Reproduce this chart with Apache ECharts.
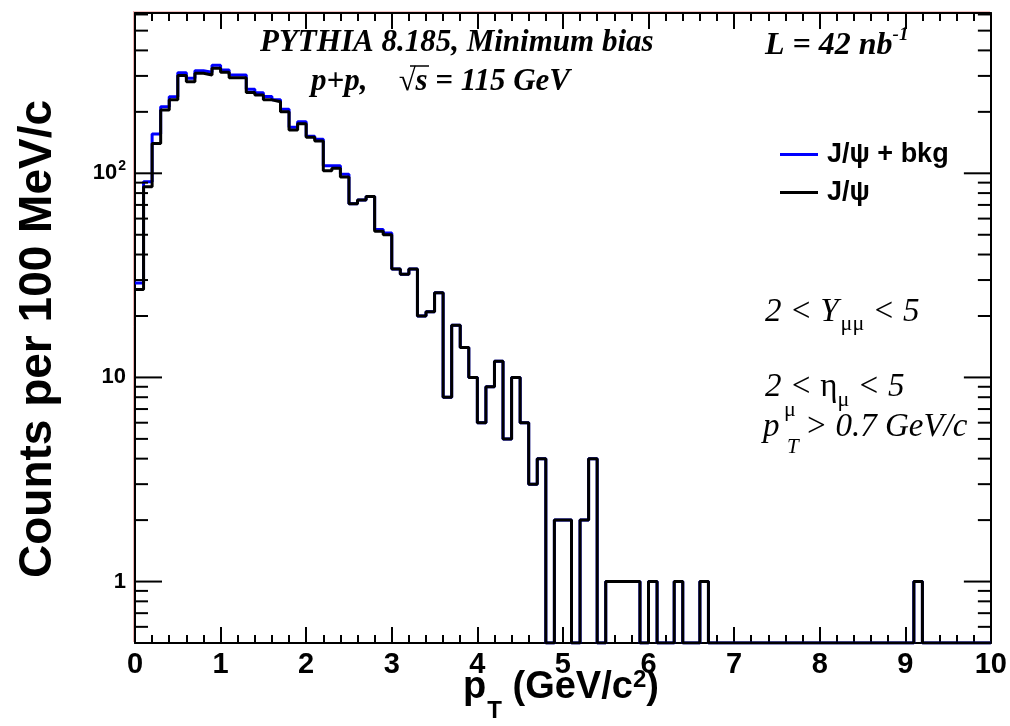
<!DOCTYPE html>
<html><head><meta charset="utf-8">
<script src="https://cdn.jsdelivr.net/npm/echarts@6/dist/echarts.min.js"></script>
<style>html,body{margin:0;padding:0;background:#fff}#c{width:1010px;height:726px}</style>
</head><body><div id="c"></div>
<script>
// ---- data ----
const Y_MIN = 0.5, Y_MAX = 610;
const X_MIN = 0, X_MAX = 10;
const binEdges = [0,0.1,0.2,0.3,0.4,0.5,0.6,0.7,0.8,0.9,
  1,1.1,1.2,1.3,1.4,1.5,1.6,1.7,1.8,1.9,
  2,2.1,2.2,2.3,2.4,2.5,2.6,2.7,2.8,2.9,
  3,3.1,3.2,3.3,3.4,3.5,3.6,3.7,3.8,3.9,
  4,4.1,4.2,4.3,4.4,4.5,4.6,4.7,4.8,4.9,
  5,5.1,5.2,5.3,5.4,5.5,5.6,5.7,5.8,5.9,
  6,6.1,6.2,6.3,6.4,6.5,6.6,6.7,6.8,6.9,
  7,7.1,7.2,7.3,7.4,7.5,7.6,7.7,7.8,7.9,
  8,8.1,8.2,8.3,8.4,8.5,8.6,8.7,8.8,8.9,
  9,9.1,9.2,9.3,9.4,9.5,9.6,9.7,9.8,9.9,10];
const jpsiCounts = [27,86,140,204,229,301,281,309,303,327,
  313,294,294,249,242,229,224,200,163,175,
  150,144,103,106,96,71,74,77,52,50,
  34,32,34,20,21,26,8,18,14,10,
  6,9,12,5,10,6,3,4,0,2,
  2,0,2,4,0,1,1,1,1,0,
  1,0,0,1,0,0,1,0,0,0,
  0,0,0,0,0,0,0,0,0,0,
  0,0,0,0,0,0,0,0,0,0,
  0,1,0,0,0,0,0,0,0,0];
const jpsiBkgCounts = [29,91,156,212,237,311,292,318,313,338,
  321,303,303,258,248,238,229,206,168,179,
  152,147,109,109,99,71,74,77,53,51,
  34,32,34,20,21,26,8,18,14,10,
  6,9,12,5,10,6,3,4,0,2,
  2,0,2,4,0,1,1,1,1,0,
  1,0,0,1,0,0,1,0,0,0,
  0,0,0,0,0,0,0,0,0,0,
  0,0,0,0,0,0,0,0,0,0,
  0,1,0,0,0,0,0,0,0,0];
const seriesNames = ['J/ψ + bkg', 'J/ψ'];
const yMajorTicks = [1, 10, 100];
const yMinorTicks = [0.6,0.7,0.8,0.9,2,3,4,5,6,7,8,9,20,30,40,50,60,70,80,90,200,300,400,500,600];

// ---- build ----
function stepData(counts) {
  const pts = counts.map((c, i) => [binEdges[i], c > 0 ? c : Y_MIN]);
  const last = counts[counts.length - 1];
  pts.push([binEdges[counts.length], last > 0 ? last : Y_MIN]);
  return pts;
}
const tickData = yMajorTicks.map(v => [5, v, 1]).concat(yMinorTicks.map(v => [5, v, 0]));

const SANS = 'Liberation Sans';
const SERIF = 'Liberation Serif';
const chart = echarts.init(document.getElementById('c'), null, {renderer: 'canvas'});

function xAxisDef(pos, showLabel) {
  return {
    type: 'value', min: X_MIN, max: X_MAX, interval: 1, position: pos,
    axisLine: {show: true, onZero: false, lineStyle: {color: '#000', width: 2}},
    axisTick: {show: true, inside: true, length: 16, lineStyle: {color: '#000', width: 2}},
    minorTick: {show: true, splitNumber: 5, length: 8, lineStyle: {color: '#000', width: 2}},
    axisLabel: {show: showLabel, margin: 7, fontSize: 29, fontWeight: 'bold', fontFamily: SANS, color: '#000'},
    splitLine: {show: false}, minorSplitLine: {show: false}
  };
}
function yAxisDef(pos, showLabel) {
  return {
    type: 'log', logBase: 10, min: Y_MIN, max: Y_MAX, position: pos,
    axisLine: {show: true, onZero: false, lineStyle: {color: '#000', width: 2}},
    axisTick: {show: false}, splitLine: {show: false},
    axisLabel: {
      show: showLabel, margin: 9, color: '#000', fontFamily: SANS, fontWeight: 'bold', fontSize: 22,
      formatter: function (v) {
        const k = Math.round(Math.log10(v));
        if (Math.abs(v - Math.pow(10, k)) > 1e-6 * v) return '';
        if (k === 0) return '1';
        if (k === 1) return '10';
        if (k === 2) return '{b|10}{s|2}';
        return '';
      },
      rich: {
        b: {fontSize: 22, fontWeight: 'bold', fontFamily: SANS, color: '#000'},
        s: {fontSize: 14, fontWeight: 'bold', fontFamily: SANS, color: '#000', padding: [0, 0, 14, 1]}
      }
    }
  };
}

const serifBI = {fontFamily: SERIF, fontStyle: 'italic', fontWeight: 'bold', fontSize: 31, fill: '#000'};
const serifI = {fontFamily: SERIF, fontStyle: 'italic', fontWeight: 'normal', fontSize: 33, fill: '#000'};
const serifUp = {fontFamily: SERIF, fontStyle: 'normal', fontWeight: 'normal', fontSize: 33, fill: '#000'};

function txt(x, y, style, extra) {
  return Object.assign({type: 'text', x: x, y: y, silent: true,
    style: Object.assign({align: 'left', verticalAlign: 'middle'}, style)}, extra || {});
}
function seg(x1, y1, x2, y2, stroke, w) {
  return {type: 'line', silent: true, shape: {x1: x1, y1: y1, x2: x2, y2: y2}, style: {stroke: stroke, lineWidth: w}};
}

const option = {
  animation: false,
  backgroundColor: '#fff',
  grid: {left: 135, right: 19, top: 13, bottom: 83},
  xAxis: [xAxisDef('bottom', true), xAxisDef('top', false)],
  yAxis: [yAxisDef('left', true), yAxisDef('right', false)],
  legend: {
    orient: 'vertical', left: 775, top: 136, itemWidth: 38, itemHeight: 3, itemGap: 11,
    icon: 'rect', selectedMode: false, data: seriesNames,
    textStyle: {fontSize: 27, fontWeight: 'bold', fontFamily: SANS, color: '#000', padding: [0, 0, 0, 4]}
  },
  series: [
    {name: seriesNames[0], type: 'line', step: 'end', data: stepData(jpsiBkgCounts),
      showSymbol: false, symbol: 'none', clip: true, color: '#0000ff',
      lineStyle: {color: '#0000ff', width: 3}, xAxisIndex: 0, yAxisIndex: 0, z: 3},
    {name: seriesNames[1], type: 'line', step: 'end', data: stepData(jpsiCounts),
      showSymbol: false, symbol: 'none', clip: true, color: '#000000',
      lineStyle: {color: '#000000', width: 3}, xAxisIndex: 0, yAxisIndex: 0, z: 4},
    {type: 'custom', xAxisIndex: 0, yAxisIndex: 0, data: tickData, encode: {x: 0, y: 1}, z: 5, silent: true,
      renderItem: function (params, api) {
        const v = api.value(1);
        const major = api.value(2) === 1;
        const l = api.coord([X_MIN, v]);
        const r = api.coord([X_MAX, v]);
        const len = major ? 27 : 13;
        return {type: 'group', children: [
          {type: 'line', shape: {x1: l[0], y1: l[1], x2: l[0] + len, y2: l[1]}, style: {stroke: '#000', lineWidth: 2}},
          {type: 'line', shape: {x1: r[0], y1: r[1], x2: r[0] - len, y2: r[1]}, style: {stroke: '#000', lineWidth: 2}}
        ]};
      }}
  ],
  graphic: [
    // faint pad border seen at left/top of the frame
    seg(133.5, 11, 133.5, 642, 'rgba(215,80,80,0.45)', 1),
    seg(134, 11.5, 990, 11.5, 'rgba(215,80,80,0.35)', 1),
    // axis titles
    txt(561, 688, {
      text: '{m|p}{sub|T}{m| (GeV/c}{sup|2}{m|)}', align: 'center',
      rich: {
        m: {fontSize: 38, fontWeight: 'bold', fontFamily: SANS, fill: '#000'},
        sub: {fontSize: 24, fontWeight: 'bold', fontFamily: SANS, fill: '#000', padding: [46, 0, 0, 1]},
        sup: {fontSize: 24, fontWeight: 'bold', fontFamily: SANS, fill: '#000', padding: [0, 0, 16, 0]}
      }
    }),
    txt(38, 339, {text: 'Counts per 100 MeV/c', align: 'center', fontSize: 46, fontWeight: 'bold', fontFamily: SANS, fill: '#000'},
      {rotation: Math.PI / 2}),
    // header texts
    txt(260, 43, Object.assign({text: 'PYTHIA 8.185, Minimum bias'}, serifBI)),
    txt(765, 46, {
      text: '{m|L = 42 nb}{sup|-1}',
      rich: {
        m: Object.assign({}, serifBI, {fontSize: 32}),
        sup: {fontFamily: SERIF, fontStyle: 'italic', fontWeight: 'bold', fontSize: 19, fill: '#000', padding: [0, 0, 22, 0]}
      }
    }),
    txt(311, 82, Object.assign({text: 'p+p,    √s = 115 GeV'}, serifBI)),
    seg(410, 66, 429, 66, '#000', 1.5),
    // cuts
    txt(765, 312, {
      text: '{m|2 < Y}{sub|μμ}{m| < 5}',
      rich: {
        m: serifI,
        sub: {fontFamily: SERIF, fontStyle: 'normal', fontSize: 22, fill: '#000', padding: [24, 0, 0, 2]}
      }
    }),
    txt(765, 387, {
      text: '{m|2 < }{u|η}{sub|μ}{m| < 5}',
      rich: {
        m: serifI,
        u: serifUp,
        sub: {fontFamily: SERIF, fontStyle: 'normal', fontSize: 22, fill: '#000', padding: [26, 0, 0, 0]}
      }
    }),
    txt(763, 427, Object.assign({text: 'p'}, serifI)),
    txt(784, 410, {text: 'μ', fontFamily: SERIF, fontSize: 22, fill: '#000'}),
    txt(787, 447, {text: 'T', fontFamily: SERIF, fontStyle: 'italic', fontSize: 21, fill: '#000'}),
    txt(805, 427, Object.assign({text: '> 0.7 GeV/c'}, serifI))
  ]
};
chart.setOption(option);
</script>
</body></html>
